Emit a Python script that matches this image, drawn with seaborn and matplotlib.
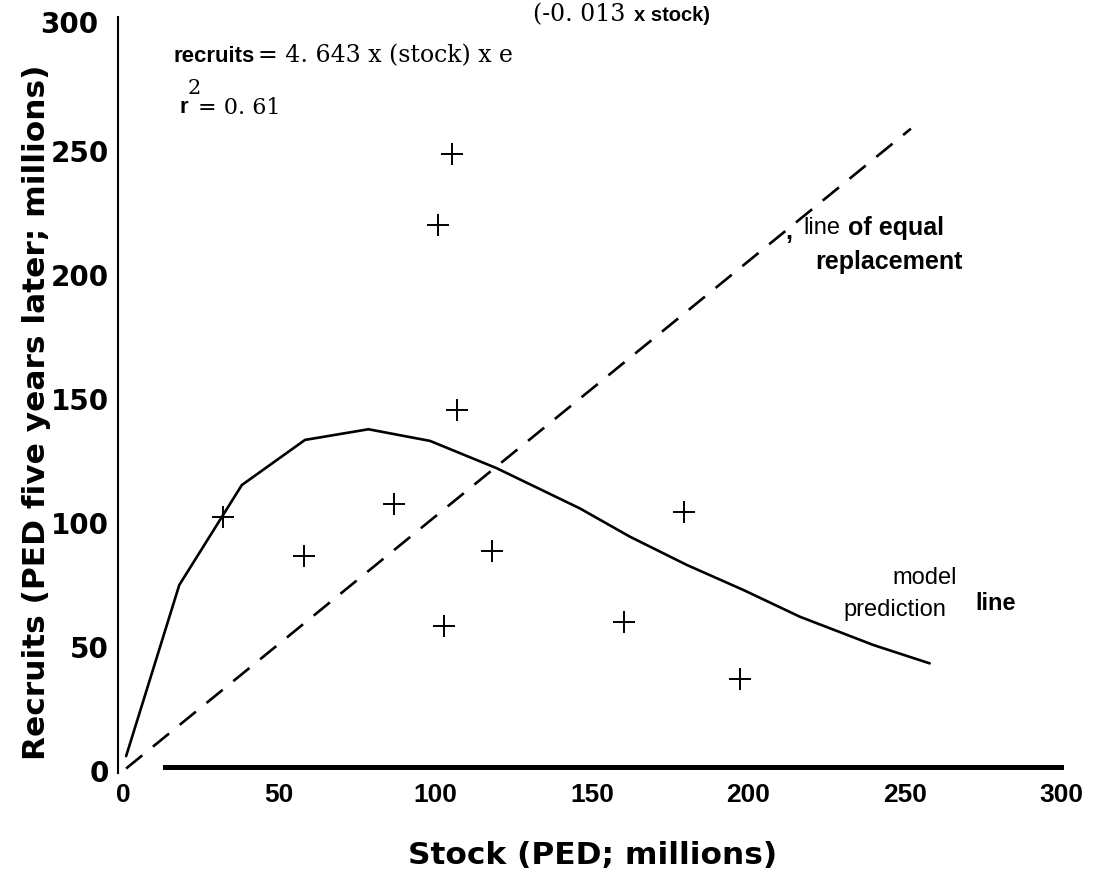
import matplotlib
matplotlib.use("Agg")
import matplotlib.pyplot as plt
import matplotlib.transforms as mtransforms
import seaborn as sns

# ---- data ----
stock = [32.1, 57.9, 86.7, 100.6, 102.7, 105.1, 106.7, 117.9, 160.3, 179.5, 197.3]
recruits = [102.3, 86.7, 107.7, 220.2, 58.6, 248.7, 145.6, 88.7, 60.2, 104.6, 37.0]

model_stock = [1, 18, 38, 58.2, 78.5, 98.2, 119.5, 146.1, 162.1, 180.3, 198.4, 216.5, 240, 258]
model_recruits = [6, 75.0, 115.3, 133.5, 137.8, 133.1, 122.1, 105.9, 94.5, 83.1, 73.0, 62.2, 50.8, 43.4]

equal_stock = [1, 252]
equal_recruits = [1, 259]

xticks = [0, 50, 100, 150, 200, 250, 300]
xtick_labels = ["0", "50", "100", "150", "200", "250", "300"]
yticks = [0, 50, 100, 150, 200, 250, 300]
ytick_labels = ["0", "50", "100", "150", "200", "250", "300"]

sns.set_style("white")
plt.rcParams["font.family"] = ["DejaVu Sans"]
plt.rcParams["text.color"] = "black"
plt.rcParams["axes.labelcolor"] = "black"
plt.rcParams["xtick.labelcolor"] = "black"
plt.rcParams["ytick.labelcolor"] = "black"

fig = plt.figure(figsize=(10.94, 8.76), dpi=100)
ax = fig.add_axes([123 / 1094, 105 / 876, 938 / 1094, 744 / 876])

sns.lineplot(x=model_stock, y=model_recruits, ax=ax, color="black", lw=1.9,
             sort=False, estimator=None)
sns.lineplot(x=equal_stock, y=equal_recruits, ax=ax, color="black", lw=1.9,
             sort=False, estimator=None)
ax.lines[-1].set_dashes([7.9, 5.2])
sns.scatterplot(x=stock, y=recruits, ax=ax, marker="+", s=260, color="black",
                linewidth=1.4)

ax.set_xlim(0, 300)
ax.set_ylim(0, 300)

for s in ["top", "right"]:
    ax.spines[s].set_visible(False)
ax.spines["left"].set_position(("data", -1.5))
ax.spines["left"].set_bounds(-1, 304)
ax.spines["left"].set_linewidth(1.5)
ax.spines["left"].set_color("black")
ax.spines["bottom"].set_position(("data", 1.5))
ax.spines["bottom"].set_bounds(13.5, 300)
ax.spines["bottom"].set_linewidth(3.6)
ax.spines["bottom"].set_color("black")

ax.set_xticks(xticks)
ax.set_xticklabels(xtick_labels, fontfamily="Liberation Sans", fontweight="bold",
                   fontsize=19, color="black")
ax.tick_params(axis="x", direction="in", length=11, width=0.8, color="#888888", pad=11)
ax.xaxis.get_major_ticks()[0].tick1line.set_visible(False)

ax.set_yticks(yticks)
ax.set_yticklabels(ytick_labels, fontfamily="DejaVu Sans", fontweight="bold",
                   fontsize=20, color="black")
ax.tick_params(axis="y", direction="in", length=9, width=1.5, color="black", pad=7)
for t in ax.yaxis.get_major_ticks()[4:]:
    t.tick1line.set_visible(False)
lbl300 = ax.get_yticklabels()[-1]
lbl300.set_transform(lbl300.get_transform()
                     + mtransforms.ScaledTranslation(-0.10, 0.05, fig.dpi_scale_trans))

ax.set_xlabel("Stock (PED; millions)", fontsize=22.5, fontweight="bold", color="black")
ax.xaxis.set_label_coords(0.501, -0.094)
ax.set_ylabel("Recruits (PED five years later; millions)", fontsize=22.5,
              fontweight="bold", va="center", color="black")
ax.yaxis.set_label_coords(-0.092, 0.4825)

# ---- equation ----
ax.text(16.0, 288.3, "recruits", fontfamily="Liberation Sans",
        fontweight="bold", fontsize=16, va="center", ha="left")
ax.text(43.2, 288.3, "= 4. 643 x (stock) x e", fontfamily="DejaVu Serif",
        fontsize=17, va="center", ha="left")
ax.text(131.1, 304.8, "(-0. 013", fontfamily="DejaVu Serif", fontsize=17,
        va="center", ha="left")
ax.text(163.4, 304.8, "x stock)", fontfamily="Liberation Sans",
        fontweight="bold", fontsize=14.5, va="center", ha="left")
ax.text(20.5, 275.0, "2", fontfamily="DejaVu Serif", fontsize=15, va="center", ha="left")
ax.text(18.0, 267.5, "r", fontfamily="Liberation Sans",
        fontweight="bold", fontsize=16, va="center", ha="left")
ax.text(24.0, 267.5, "= 0. 61", fontfamily="DejaVu Serif", fontsize=16,
        va="center", ha="left")

# ---- annotations ----
ax.text(211.7, 217.5, ",", fontfamily="Liberation Sans", fontweight="bold", fontsize=18,
        va="center", ha="left")
ax.text(217.5, 219, "line", fontfamily="Liberation Sans", fontsize=17, va="center", ha="left")
ax.text(231.8, 219, "of equal", fontfamily="Liberation Sans", fontweight="bold",
        fontsize=18, va="center", ha="left")
ax.text(221.3, 205.2, "replacement", fontfamily="Liberation Sans", fontweight="bold",
        fontsize=18, va="center", ha="left")
ax.text(246.2, 77.8, "model", fontfamily="Liberation Sans", fontsize=17, va="center", ha="left")
ax.text(230.3, 64.9, "prediction", fontfamily="Liberation Sans", fontsize=17,
        va="center", ha="left")
ax.text(272.5, 67.7, "line", fontfamily="Liberation Sans", fontweight="bold", fontsize=17,
        va="center", ha="left")

fig.savefig("out.png", dpi=100, facecolor="white")
